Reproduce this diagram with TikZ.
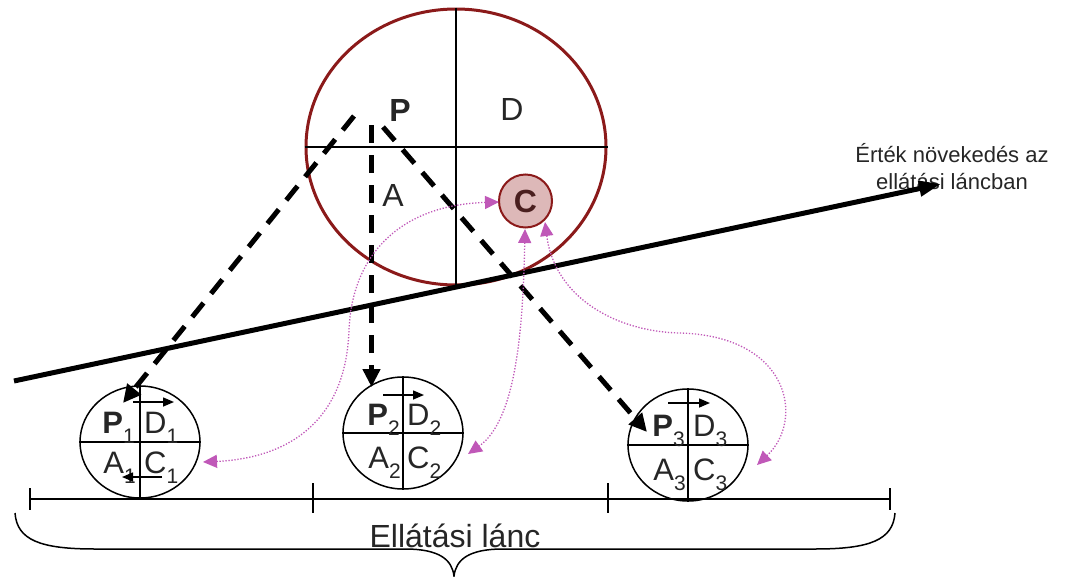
\documentclass[tikz,border=0pt]{standalone}
\usepackage{fontspec}
\setmainfont{Liberation Sans}
\usetikzlibrary{arrows.meta,shapes.geometric}
\definecolor{dred}{HTML}{8B1A1A}
\definecolor{pinkm}{HTML}{C058B8}
\definecolor{cfill}{HTML}{DDB8B8}
\definecolor{ctext}{HTML}{4A1F1F}
\definecolor{txt}{HTML}{262626}
\newcommand\lsub[1]{\raisebox{-10pt}{\fontsize{21}{21}\selectfont\mdseries #1}}
\begin{document}
\begin{tikzpicture}[x=1pt,y=-1pt,
  bigell/.style={draw=dred, line width=3pt, ellipse, minimum width=300pt, minimum height=276pt, inner sep=0pt},
  smallell/.style={draw, line width=1.5pt, ellipse, minimum width=120pt, minimum height=112pt, inner sep=0pt},
  divline/.style={line width=1.5pt},
  biglab/.style={anchor=base, inner sep=0pt, text=txt, font=\fontsize{32}{32}\selectfont},
  lablft/.style={anchor=base east, inner sep=0pt, text=txt, font=\fontsize{31}{31}\selectfont},
  labrgt/.style={anchor=base west, inner sep=0pt, text=txt, font=\fontsize{31}{31}\selectfont},
  boldlab/.style={lablft, font=\fontsize{31}{31}\selectfont\bfseries},
  dasharr/.style={line width=5pt, dash pattern=on 18pt off 12pt, -{Triangle[length=18pt,width=17pt]}},
  flowarr/.style={line width=1.5pt, -{Triangle[length=11pt,width=9pt]}},
  pinkarr/.style={draw=pinkm, line width=1.3pt, dash pattern=on 1.3pt off 1.7pt, {Triangle[length=14pt,width=13pt]}-{Triangle[length=14pt,width=13pt]}},
  titletxt/.style={anchor=base, inner sep=0pt, text=txt, font=\fontsize{22}{22}\selectfont}
]
\useasboundingbox (0,0) rectangle (1066,576);

% big ellipse
\node[bigell] (big) at (456,147) {};
\draw[divline] (big.north) -- (big.south);
\draw[divline] (big.west) -- (big.east);
\node[biglab, font=\fontsize{32}{32}\selectfont\bfseries] (bP) at (400,121) {P};
\node[biglab] (bD) at (512,120) {D};
\node[biglab] (bA) at (393,206) {A};
\node[circle, draw=dred, line width=2pt, fill=cfill, minimum size=53pt, inner sep=0pt, text=ctext, font=\fontsize{32}{32}\selectfont\bfseries] (cc) at (525.5,201) {C};

% small circles
\node[smallell] (c1) at (140,442) {};
\node[smallell] (c2) at (403,433) {};
\node[smallell] (c3) at (688,445) {};
\foreach \c in {c1,c2,c3}{
  \draw[divline] (\c.north) -- (\c.south);
  \draw[divline] (\c.west) -- (\c.east);
}
% labels circle 1
\node[boldlab] (p1) at (135,433) {P\lsub{1}};
\node[labrgt] (d1) at (144,433) {D\lsub{1}};
\node[lablft] (a1) at (136,473) {A\lsub{1}};
\node[labrgt] (k1) at (144,473) {C\lsub{1}};
% labels circle 2
\node[boldlab] (p2) at (400,425) {P\lsub{2}};
\node[labrgt] (d2) at (407,425) {D\lsub{2}};
\node[lablft] (a2) at (401,468) {A\lsub{2}};
\node[labrgt] (k2) at (407,468) {C\lsub{2}};
% labels circle 3
\node[boldlab] (p3) at (685,436) {P\lsub{3}};
\node[labrgt] (d3) at (693,436) {D\lsub{3}};
\node[lablft] (a3) at (686,480) {A\lsub{3}};
\node[labrgt] (k3) at (693,480) {C\lsub{3}};

% small flow arrows in circles
\coordinate (f1a) at (133,402); \coordinate (f1b) at (174,402);
\coordinate (f1c) at (162,477); \coordinate (f1d) at (122,477);
\coordinate (f2a) at (383,395); \coordinate (f2b) at (424,395);
\coordinate (f3a) at (668,403); \coordinate (f3b) at (710,403);
\draw[flowarr] (f1a) -- (f1b);
\draw[flowarr] (f1c) -- (f1d);
\draw[flowarr] (f2a) -- (f2b);
\draw[flowarr] (f3a) -- (f3b);

% title text
\node[titletxt] (t1) at (952,162) {Érték növekedés az};
\node[titletxt] (t2) at (952,189) {ellátási láncban};

% long value arrow
\coordinate (ls) at (14,381);
\coordinate (le) at (941,184);
\draw[line width=5pt, -{Triangle[length=22pt,width=15pt]}] (ls) -- (le);

% dashed arrows
\coordinate (dl0) at (354,116); \coordinate (dl1) at (123,403);
\coordinate (dm0) at (371.5,125); \coordinate (dm1) at (371.5,387);
\coordinate (dr0) at (383,127); \coordinate (dr1) at (647,432);
\draw[dasharr] (dl0) -- (dl1);
\draw[dasharr] (dm0) -- (dm1);
\draw[dasharr] (dr0) -- (dr1);

% pink dotted arrows
\coordinate (q1a) at (499,202); \coordinate (q1b) at (203,462);
\coordinate (q2a) at (525,229); \coordinate (q2b) at (468,454);
\coordinate (q3a) at (545,222); \coordinate (q3b) at (757,465);
\draw[pinkarr] (q1a) .. controls (400,205) and (352,255) .. (349,330) .. controls (346,420) and (290,458) .. (q1b);
\draw[pinkarr] (q2a) .. controls (523,330) and (516,420) .. (q2b);
\draw[pinkarr] (q3a) .. controls (555,300) and (620,332) .. (680,333) .. controls (790,336) and (805,420) .. (q3b);

% scale line and brace
\coordinate (s0) at (30,499); \coordinate (s3) at (890,499);
\draw[divline] (s0) -- (s3);
\draw[divline] (30,488) -- (30,510);
\draw[divline] (313,483) -- (313,513);
\draw[divline] (608,483) -- (608,513);
\draw[divline] (890,488) -- (890,510);
\draw[line width=1.5pt] (15,513) .. controls (17,540) and (40,549) .. (95,549) -- (405,549)
  .. controls (440,549) and (452,560) .. (454,576)
  .. controls (456,560) and (468,549) .. (503,549) -- (815,549)
  .. controls (870,549) and (893,540) .. (895,513);
\node[anchor=base, inner sep=0pt, text=txt, font=\fontsize{32}{32}\selectfont] (chain) at (455,547) {Ellátási lánc};
\end{tikzpicture}
\end{document}
